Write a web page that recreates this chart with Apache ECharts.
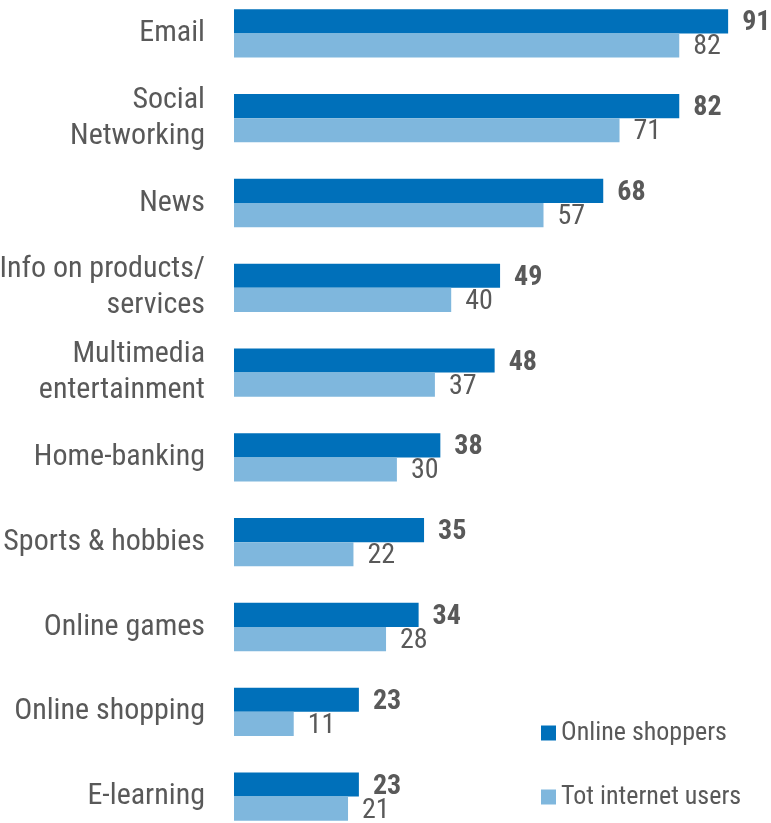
<!DOCTYPE html>
<html>
<head>
<meta charset="utf-8">
<script src="https://cdn.jsdelivr.net/npm/echarts@6/dist/echarts.min.js"></script>
<style>
  html, body { margin: 0; padding: 0; background: #fff; overflow: hidden; }
  #chart { width: 771px; height: 880px; margin-top: -9px; }
</style>
</head>
<body>
<div id="chart"></div>
<script>
// Internet activities: share of online shoppers vs. all internet users (%)
const categories = [
  'Email',
  'Social\nNetworking',
  'News',
  'Info on products/\nservices',
  'Multimedia\nentertainment',
  'Home-banking',
  'Sports & hobbies',
  'Online games',
  'Online shopping',
  'E-learning'
];
const onlineShoppers = [91, 82, 68, 49, 48, 38, 35, 34, 23, 23];
const totInternetUsers = [82, 71, 57, 40, 37, 30, 22, 28, 11, 21];

// Narrow sans: Roboto drawn at its condensed width
const FONT = 'Roboto, "Liberation Sans", sans-serif';
const STRETCH = 'condensed';
const TEXT = '#595959';

const chart = echarts.init(document.getElementById('chart'));
chart.setOption({
  animation: false,
  grid: {
    left: 234, width: 543, top: 0, height: 848,
    containLabel: false,
    outerBoundsMode: 'none'
  },
  legend: {
    orient: 'vertical',
    left: 541,
    top: 729,
    itemWidth: 15,
    itemHeight: 15,
    itemGap: 38,
    padding: 0,
    icon: 'rect',
    textStyle: { fontFamily: FONT, fontStyle: STRETCH, fontSize: 26, color: TEXT },
    data: ['Online shoppers', 'Tot internet users']
  },
  xAxis: { type: 'value', min: 0, max: 100, show: false },
  yAxis: {
    type: 'category',
    inverse: true,
    data: categories,
    axisLine: { show: false },
    axisTick: { show: false },
    axisLabel: {
      margin: 29,
      fontFamily: FONT,
      fontStyle: STRETCH,
      fontSize: 30,
      lineHeight: 36,
      padding: [6, 0, 0, 0],
      color: TEXT,
      align: 'right'
    }
  },
  series: [
    {
      name: 'Online shoppers',
      type: 'bar',
      data: onlineShoppers,
      barCategoryGap: '43%',
      barGap: '0%',
      itemStyle: { color: '#0070BA' },
      label: {
        show: true,
        position: 'right',
        distance: 14,
        offset: [0, 2],
        fontFamily: FONT,
        fontStyle: STRETCH,
        fontSize: 28,
        fontWeight: 'bold',
        color: TEXT
      }
    },
    {
      name: 'Tot internet users',
      type: 'bar',
      data: totInternetUsers,
      barCategoryGap: '43%',
      barGap: '0%',
      itemStyle: { color: '#7FB7DD' },
      label: {
        show: true,
        position: 'right',
        distance: 14,
        offset: [0, 2],
        fontFamily: FONT,
        fontStyle: STRETCH,
        fontSize: 28,
        color: TEXT
      }
    }
  ]
});
</script>
</body>
</html>
